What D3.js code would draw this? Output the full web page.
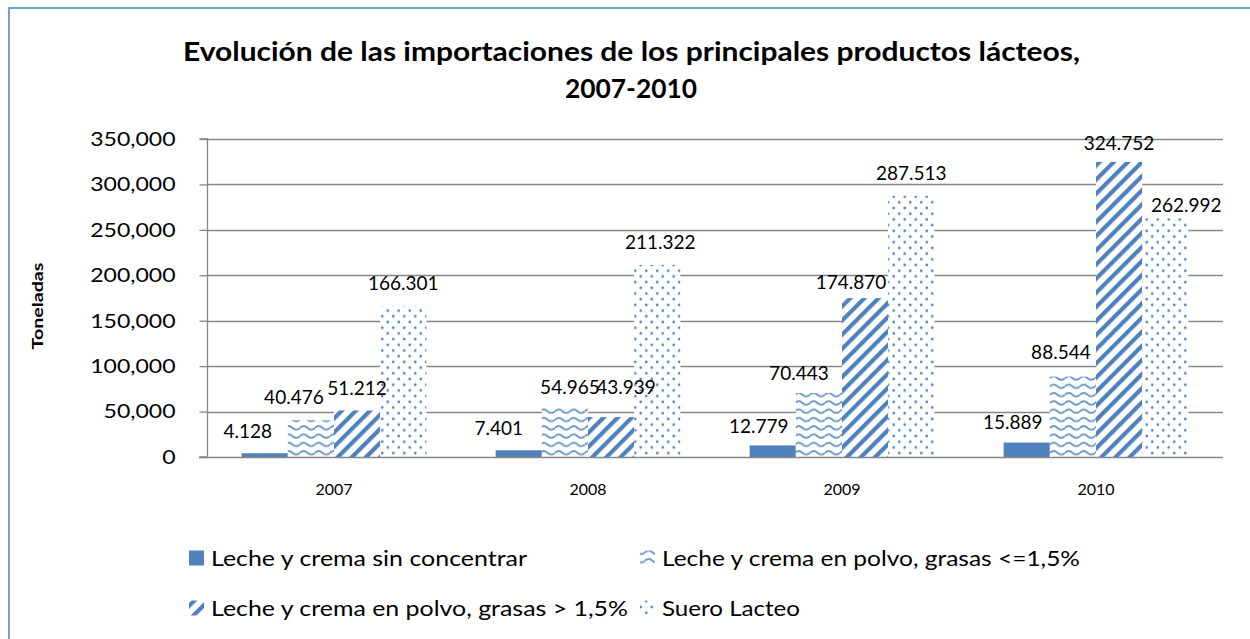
<!DOCTYPE html>
<html><head><meta charset="utf-8">
<script src="https://cdn.jsdelivr.net/npm/d3@7"></script>
<style>body{margin:0;background:#fff}svg{display:block}text{font-family:Lato,'Open Sans',sans-serif;fill:#000}</style>
</head><body><svg id="c" width="1250" height="639"></svg>
<script>
// ---- data ----
const years = ["2007", "2008", "2009", "2010"];
const seriesNames = [
  "Leche y crema sin concentrar",
  "Leche y crema en polvo, grasas <=1,5%",
  "Leche y crema en polvo, grasas > 1,5%",
  "Suero Lacteo"
];
const lecheSinConcentrar = [4128, 7401, 12779, 15889];
const lechePolvoBaja = [40476, 54965, 70443, 88544];
const lechePolvoAlta = [51212, 43939, 174870, 324752];
const sueroLacteo = [166301, 211322, 287513, 262992];
const yTickValues = [0, 50000, 100000, 150000, 200000, 250000, 300000, 350000];
const titleLines = ["Evolución de las importaciones de los principales productos lácteos,", "2007-2010"];
const yAxisTitle = "Toneladas";

const seriesValues = [lecheSinConcentrar, lechePolvoBaja, lechePolvoAlta, sueroLacteo];

// label nudges (px) to mimic the manual placement in the original
const labelDX = [[-17, -20, -14, -14], [-17, 5, -20, -12], [0, 15, -14, 0], [0, 3, 0, 21]];
const labelDY = [[0, 0, 3, 2], [-1, 2, 2, -2], [0, -8, 6, 3], [-1, -1, -1, 9]];

// ---- layout ----
const svg = d3.select("#c");
const W = 1250, H = 639;
const plot = {left: 207, right: 1223, top: 139, bottom: 457};
const blue = "#4F81BD";
const grid = "#868686";

svg.append("rect").attr("width", W).attr("height", H).attr("fill", "#fff");
svg.append("rect").attr("x", 9).attr("y", 8).attr("width", 1400).attr("height", 800)
  .attr("fill", "none").attr("stroke", blue).attr("stroke-width", 1.5);

// patterns
const defs = svg.append("defs");
const pw = defs.append("pattern").attr("id", "wave").attr("patternUnits", "userSpaceOnUse")
  .attr("width", 15).attr("height", 8.3);
pw.append("rect").attr("width", 15).attr("height", 8.3).attr("fill", "#fff");
pw.append("path").attr("d", "M0,4.5 Q3.75,1 7.5,4.5 T15,4.5").attr("fill", "none")
  .attr("stroke", blue).attr("stroke-width", 1.9).attr("stroke-opacity", 0.85);

const ps = defs.append("pattern").attr("id", "stripe").attr("patternUnits", "userSpaceOnUse")
  .attr("width", 10).attr("height", 10).attr("patternTransform", "rotate(45)");
ps.append("rect").attr("width", 10).attr("height", 10).attr("fill", "#fff");
ps.append("rect").attr("width", 4.2).attr("height", 10).attr("fill", blue);

const pd = defs.append("pattern").attr("id", "dots").attr("patternUnits", "userSpaceOnUse")
  .attr("width", 11).attr("height", 11.4);
pd.append("rect").attr("width", 11).attr("height", 11.4).attr("fill", "#fff");
pd.append("circle").attr("cx", 2.75).attr("cy", 2.85).attr("r", 1.4).attr("fill", "#5B8AC6");
pd.append("circle").attr("cx", 8.25).attr("cy", 8.55).attr("r", 1.4).attr("fill", "#5B8AC6");

const fills = [blue, "url(#wave)", "url(#stripe)", "url(#dots)"];

// scales
const x0 = d3.scaleBand().domain(years).range([plot.left, plot.right]).padding(0);
const groupGap = x0.bandwidth() * 1.5 / 5.5;
const x1 = d3.scaleBand().domain(d3.range(4)).range([groupGap / 2, x0.bandwidth() - groupGap / 2]).padding(0);
const y = d3.scaleLinear().domain([0, 350000]).range([plot.bottom, plot.top]);

// gridlines
svg.append("g").selectAll("line").data(yTickValues.filter(d => d > 0)).join("line")
  .attr("x1", plot.left).attr("x2", plot.right)
  .attr("y1", d => Math.round(y(d)) + 0.5).attr("y2", d => Math.round(y(d)) + 0.5)
  .attr("stroke", grid).attr("stroke-width", 1.3);

// bars
const gBars = svg.append("g");
seriesValues.forEach((vals, si) => {
  gBars.append("g").selectAll("rect").data(vals).join("rect")
    .attr("x", (d, i) => x0(years[i]) + x1(si))
    .attr("width", x1.bandwidth())
    .attr("y", d => y(d))
    .attr("height", d => y(0) - y(d))
    .attr("fill", fills[si]);
});

// y axis
const yAxis = d3.axisLeft(y).tickValues(yTickValues).tickFormat(d3.format(",")).tickSize(8).tickPadding(24);
const gy = svg.append("g").attr("transform", `translate(${plot.left + 0.5},0)`).call(yAxis);
gy.select(".domain").attr("stroke", grid).attr("stroke-width", 1.3).attr("d", `M-8,${plot.bottom}H0V${plot.top}H-8`);
gy.selectAll(".tick line").attr("stroke", grid).attr("stroke-width", 1.3);
gy.selectAll(".tick text").attr("font-size", 20).attr("font-family", "Lato").attr("fill", "#000")
  .each(function () { const L = this.getComputedTextLength(); this.setAttribute("textLength", L * 1.15); this.setAttribute("lengthAdjust", "spacingAndGlyphs"); });

// baseline
svg.append("line").attr("x1", plot.left - 8).attr("x2", plot.right)
  .attr("y1", plot.bottom + 0.5).attr("y2", plot.bottom + 0.5).attr("stroke", grid).attr("stroke-width", 1.3);

// x axis labels
const gx = svg.append("g").attr("transform", `translate(0,${plot.bottom})`)
  .call(d3.axisBottom(x0).tickSize(0).tickPadding(27));
gx.select(".domain").remove();
gx.selectAll(".tick text").attr("font-size", 16).attr("font-family", "Lato").attr("fill", "#000");

// data labels
const fmtLabel = d3.formatLocale({decimal: ",", thousands: ".", grouping: [3], currency: ["", ""]}).format(",");
const gLab = svg.append("g");
seriesValues.forEach((vals, si) => {
  gLab.append("g").selectAll("text").data(vals).join("text")
    .attr("x", (d, i) => x0(years[i]) + x1(si) + x1.bandwidth() / 2 + labelDX[si][i])
    .attr("y", (d, i) => y(d) - 22 + labelDY[si][i])
    .attr("dy", "0.36em")
    .attr("text-anchor", "middle").attr("font-size", 19)
    .text(d => fmtLabel(d));
});

// title
svg.append("text").attr("x", 631.5).attr("y", 61).attr("text-anchor", "middle")
  .attr("font-size", 27).attr("font-weight", "bold")
  .attr("textLength", 897).attr("lengthAdjust", "spacingAndGlyphs").text(titleLines[0]);
svg.append("text").attr("x", 631).attr("y", 98).attr("text-anchor", "middle")
  .attr("font-size", 27).attr("font-weight", "bold")
  .attr("textLength", 132).attr("lengthAdjust", "spacingAndGlyphs").text(titleLines[1]);

// y axis title
svg.append("text").attr("transform", "translate(43,306) rotate(-90)")
  .attr("text-anchor", "middle").attr("font-size", 15).attr("font-weight", "bold")
  .attr("textLength", 87).attr("lengthAdjust", "spacingAndGlyphs").text(yAxisTitle);

// legend
const legendPos = [[189, 558], [640, 558], [189, 608], [640, 608]];
const legendW = [316, 418, 417, 138];
const gLeg = svg.append("g");
seriesNames.forEach((name, si) => {
  const [lx, ly] = legendPos[si];
  gLeg.append("rect").attr("x", lx).attr("y", ly - 7.5).attr("width", 15).attr("height", 15).attr("fill", fills[si]);
  gLeg.append("text").attr("x", lx + 22).attr("y", ly).attr("dy", "0.36em").attr("font-size", 21)
    .attr("textLength", legendW[si]).attr("lengthAdjust", "spacingAndGlyphs").text(name);
});
</script>
</body></html>
